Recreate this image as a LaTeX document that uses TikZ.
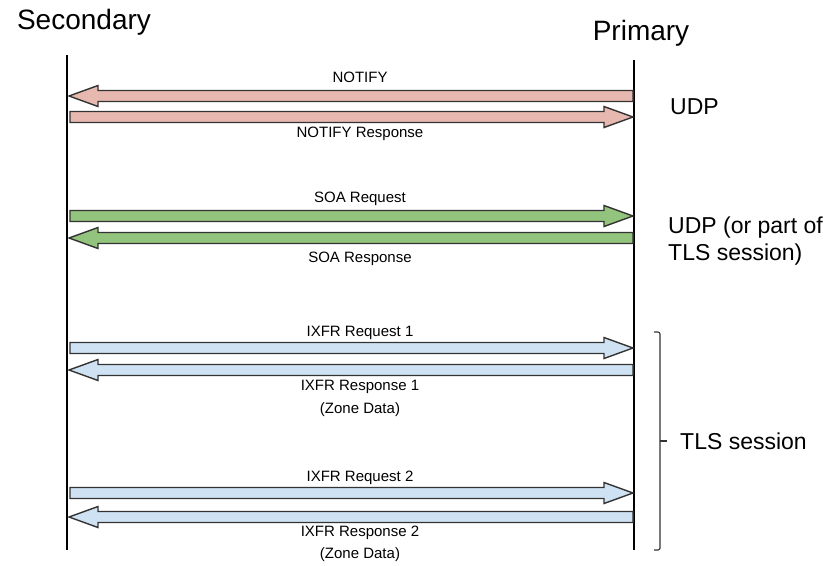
\documentclass[tikz,border=0pt]{standalone}
\usepackage{fontspec}
\setmainfont{Liberation Sans}
\usetikzlibrary{calc}

\definecolor{notifyfill}{HTML}{E6B8AF}
\definecolor{soafill}{HTML}{93C47D}
\definecolor{ixfrfill}{HTML}{CFE2F3}
\definecolor{edge}{HTML}{333333}

\tikzset{
  lifeline/.style={draw=black, line width=1.1pt},
  fatarrow/.style={draw=edge, line width=1.4pt, line join=miter},
  msglabel/.style={anchor=base, inner sep=0pt, font=\fontsize{15}{17}\selectfont},
  sidelabel/.style={anchor=base west, inner sep=0pt, font=\fontsize{23}{27}\selectfont},
  titlelabel/.style={anchor=base, inner sep=0pt, font=\fontsize{28}{30}\selectfont},
  bracket/.style={draw=black!80, line width=1.1pt, rounded corners=2pt},
}

% block arrow from tail coordinate #2 to tip coordinate #3, filled with #1
\newcommand\blockarrow[3]{%
  \coordinate (hb) at ($(#3)!29pt!(#2)$);
  \filldraw[fatarrow, fill=#1]
    ([yshift=5.5pt]#2) -- ([yshift=5.5pt]hb) -- ([yshift=10.5pt]hb) -- (#3)
    -- ([yshift=-10.5pt]hb) -- ([yshift=-5.5pt]hb) -- ([yshift=-5.5pt]#2) -- cycle;}

\begin{document}
\begin{tikzpicture}[x=1pt, y=-1pt]
  \useasboundingbox (0,0) rectangle (835,565);

  % titles
  \node[titlelabel] (sec) at (84,29) {Secondary};
  \node[titlelabel] (pri) at (641,40) {Primary};

  % lifelines
  \coordinate (secTop) at (67,55);
  \coordinate (secBot) at (67,550);
  \coordinate (priTop) at (634,60);
  \coordinate (priBot) at (634,550);
  \draw[lifeline] (secTop) -- (secBot);
  \draw[lifeline] (priTop) -- (priBot);

  % NOTIFY exchange
  \coordinate (n1tail) at (633,96);   \coordinate (n1tip) at (69,96);
  \coordinate (n2tail) at (70,117);   \coordinate (n2tip) at (633,117);
  \blockarrow{notifyfill}{n1tail}{n1tip}
  \blockarrow{notifyfill}{n2tail}{n2tip}
  \node[msglabel] (notify) at (360,82) {NOTIFY};
  \node[msglabel] (notifyresp) at (360,137) {NOTIFY Response};

  % SOA exchange
  \coordinate (s1tail) at (70,216);   \coordinate (s1tip) at (633,216);
  \coordinate (s2tail) at (633,238);  \coordinate (s2tip) at (69,238);
  \blockarrow{soafill}{s1tail}{s1tip}
  \blockarrow{soafill}{s2tail}{s2tip}
  \node[msglabel] (soareq) at (360,202) {SOA Request};
  \node[msglabel] (soaresp) at (360,262) {SOA Response};

  % first IXFR exchange
  \coordinate (i1tail) at (70,348);   \coordinate (i1tip) at (633,348);
  \coordinate (i2tail) at (633,370);  \coordinate (i2tip) at (69,370);
  \blockarrow{ixfrfill}{i1tail}{i1tip}
  \blockarrow{ixfrfill}{i2tail}{i2tip}
  \node[msglabel] (ixreq1) at (360,336) {IXFR Request 1};
  \node[msglabel] (ixresp1) at (360,390) {IXFR Response 1};
  \node[msglabel] (zone1) at (360,413) {(Zone Data)};

  % second IXFR exchange
  \coordinate (i3tail) at (70,493);   \coordinate (i3tip) at (633,493);
  \coordinate (i4tail) at (633,517);  \coordinate (i4tip) at (69,517);
  \blockarrow{ixfrfill}{i3tail}{i3tip}
  \blockarrow{ixfrfill}{i4tail}{i4tip}
  \node[msglabel] (ixreq2) at (360,481) {IXFR Request 2};
  \node[msglabel] (ixresp2) at (360,536) {IXFR Response 2};
  \node[msglabel] (zone2) at (360,558) {(Zone Data)};

  % transport labels
  \node[sidelabel] (udp) at (670,114) {UDP};
  \node[sidelabel] (udp2a) at (668,233) {UDP (or part of};
  \node[sidelabel] (udp2b) at (668,260) {TLS session)};

  % brace grouping the IXFR exchanges
  \coordinate (brTop) at (654,332);
  \coordinate (brBot) at (654,550);
  \coordinate (brMid) at (660,441);
  \coordinate (brTick) at (667,441);
  \draw[bracket] (brTop) -- (660,332) -- (660,550) -- (brBot);
  \draw[bracket] (brMid) -- (brTick);
  \node[sidelabel] (tls) at (680,449) {TLS session};
\end{tikzpicture}
\end{document}
